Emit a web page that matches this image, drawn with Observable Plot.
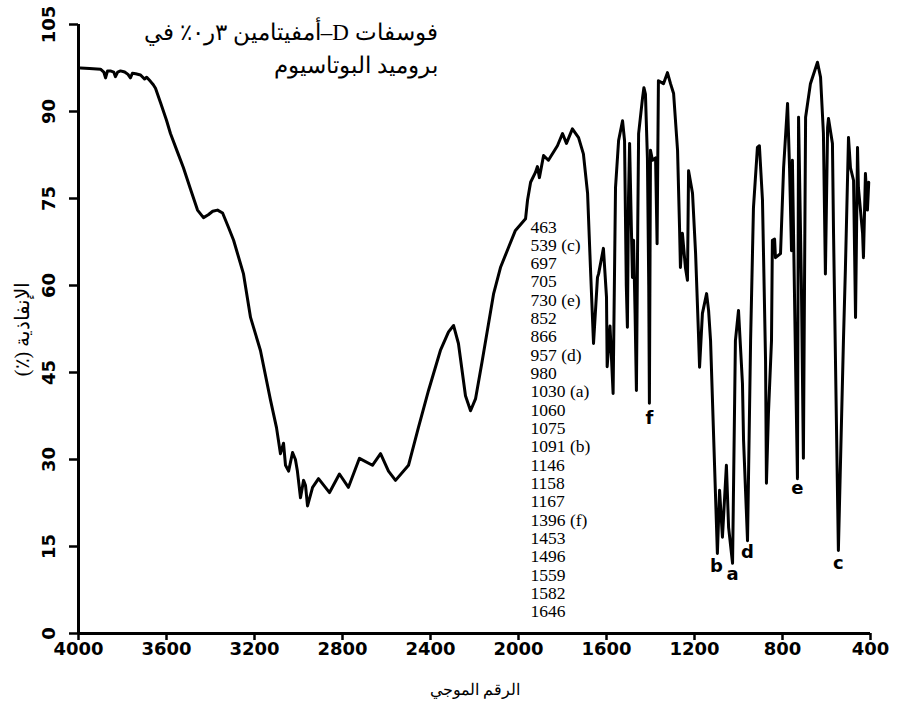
<!DOCTYPE html>
<html>
<head>
<meta charset="utf-8">
<script src="https://cdn.jsdelivr.net/npm/d3@7"></script>
<script src="https://cdn.jsdelivr.net/npm/@observablehq/plot@0.6"></script>
<style>
  html, body { margin: 0; padding: 0; background: #fff; }
</style>
</head>
<body>
<div id="chart"></div>
<script>
// ---- Data ----
const wavenumber = [
  3991, 3950, 3900, 3885, 3877, 3868, 3855, 3840, 3832, 3822, 3809, 3790, 3775, 3764, 3755, 3740,
  3718, 3700, 3690, 3673, 3660, 3650, 3627, 3600, 3582, 3550, 3523, 3490, 3459, 3432, 3410, 3390,
  3368, 3345, 3318, 3295, 3250, 3218, 3173, 3127, 3100, 3082, 3068, 3059, 3045, 3027, 3014, 3005,
  2991, 2977, 2968, 2959, 2936, 2909, 2859, 2814, 2773, 2723, 2664, 2627, 2591, 2559, 2500, 2455,
  2409, 2355, 2318, 2295, 2273, 2241, 2218, 2195, 2165, 2113, 2082, 2045, 2014, 1968, 1959, 1945,
  1923, 1914, 1905, 1886, 1864, 1823, 1800, 1782, 1755, 1727, 1705, 1686, 1673, 1659, 1641, 1636,
  1614, 1600, 1597, 1584, 1570, 1559, 1545, 1527, 1518, 1510, 1505, 1500, 1495, 1487, 1482, 1477,
  1470, 1464, 1458, 1454, 1436, 1430, 1423, 1414, 1408, 1405, 1400, 1391, 1377, 1370, 1364, 1341,
  1323, 1309, 1295, 1277, 1268, 1264, 1255, 1241, 1232, 1227, 1209, 1195, 1182, 1177, 1164, 1145,
  1136, 1127, 1096, 1086, 1073, 1055, 1045, 1027, 1014, 1000, 982, 977, 959, 945, 932, 914,
  905, 891, 877, 873, 864, 850, 846, 836, 832, 809, 795, 777, 768, 759, 755, 740,
  732, 727, 714, 705, 700, 695, 673, 641, 627, 614, 605, 595, 591, 573, 568, 546,
  523, 514, 500, 491, 477, 468, 459, 455, 436, 432, 423, 414, 408
];
const transmittance = [
  97.5, 97.4, 97.3, 96.8, 95.8, 97.0, 97.0, 96.8, 96.0, 96.8, 97.0, 96.8, 96.4, 95.8, 96.6, 96.5,
  96.3, 95.6, 95.9, 95.2, 94.6, 94.0, 91.5, 88.5, 86.2, 83.0, 80.3, 76.5, 73.0, 71.7, 72.2, 72.8,
  73.0, 72.5, 70.0, 67.8, 62.0, 54.5, 48.8, 40.2, 35.5, 31.0, 32.8, 29.0, 28.0, 31.2, 30.0, 28.0,
  23.4, 26.4, 25.5, 22.0, 25.2, 26.7, 24.3, 27.5, 25.2, 30.2, 29.0, 31.0, 28.0, 26.4, 29.0, 35.5,
  41.9, 48.8, 52.0, 53.1, 50.0, 41.0, 38.4, 40.5, 47.0, 58.6, 63.1, 66.6, 69.5, 71.5, 74.7, 77.8,
  79.5, 80.5, 78.6, 82.4, 81.6, 84.1, 86.2, 84.5, 87.0, 85.5, 82.7, 75.9, 63.1, 50.0, 61.4, 62.0,
  66.4, 58.0, 46.0, 53.0, 41.4, 76.9, 85.0, 88.4, 85.0, 60.0, 52.8, 75.0, 84.5, 70.0, 61.4, 67.8,
  55.0, 41.9, 70.0, 86.2, 92.4, 94.1, 93.0, 82.0, 60.0, 39.7, 83.3, 81.6, 82.0, 67.2, 95.3, 94.8,
  96.7, 94.8, 93.1, 83.3, 70.0, 63.1, 69.0, 63.0, 60.9, 79.8, 75.9, 65.5, 51.7, 45.9, 55.2, 58.6,
  55.7, 50.5, 13.8, 24.7, 16.6, 29.0, 18.3, 12.1, 50.5, 55.7, 43.1, 33.3, 16.0, 50.5, 73.4, 83.8,
  84.1, 74.7, 47.0, 25.9, 37.9, 50.5, 67.8, 68.0, 64.8, 65.5, 80.3, 91.4, 80.3, 66.0, 81.6, 45.0,
  26.7, 89.0, 60.0, 30.2, 60.0, 89.0, 94.8, 98.5, 95.9, 86.2, 62.0, 87.2, 88.8, 84.5, 69.0, 14.3,
  50.5, 63.0, 85.5, 80.3, 78.1, 54.5, 83.8, 76.9, 69.0, 64.8, 79.3, 73.0, 77.8
];

const xTicks = [4000, 3600, 3200, 2800, 2400, 2000, 1600, 1200, 800, 400];
const yTicks = [0, 15, 30, 45, 60, 75, 90, 105];

const peakList = [
  "463", "539 (c)", "697", "705", "730 (e)", "852", "866", "957 (d)", "980", "1030 (a)",
  "1060", "1075", "1091 (b)", "1146", "1158", "1167", "1396 (f)", "1453", "1496", "1559",
  "1582", "1646"
];

const bandLetters = ["f", "b", "a", "d", "e", "c"];
const bandWn = [1405, 1100, 1027, 959, 732, 546];
const bandT = [37.2, 11.6, 10.3, 14.0, 25.0, 12.2];

const titleLines = ["فوسفات D–أمفيتامين ٣ر٠٪ في", "بروميد البوتاسيوم"];
const xLabel = "الرقم الموجي";
const yLabel = "الإنفاذية (٪)";

// ---- Tables built from the arrays ----
const spectrum = wavenumber.map((w, i) => ({wn: w, t: transmittance[i]}));
const bands = bandLetters.map((l, i) => ({label: l, wn: bandWn[i], t: bandT[i]}));
const rtl = s => "\u202B" + s + "\u202C";

const tickFont = "DejaVu Sans, Verdana, sans-serif";
const serifFont = "Liberation Serif, Times New Roman, DejaVu Serif, serif";

const chart = Plot.plot({
  width: 908,
  height: 706,
  marginTop: 24,
  marginBottom: 73,
  marginLeft: 78,
  marginRight: 38,
  style: {background: "#fff", color: "#000", overflow: "visible"},
  x: {domain: [4000, 400], label: null},
  y: {domain: [0, 105], label: null},
  marks: [
    Plot.axisX({ticks: xTicks, tickSize: 7, tickPadding: 2, tickFormat: d => String(d),
      fontSize: 18, fontWeight: "bold", fontFamily: tickFont, strokeWidth: 2.5, label: null}),
    Plot.axisY({ticks: yTicks, tickSize: 9, tickFormat: () => "", strokeWidth: 2.5, label: null}),
    Plot.text(yTicks, {y: d => d, text: d => String(d), frameAnchor: "left", dx: -29, rotate: -90,
      textAnchor: "middle", lineAnchor: "middle", fontSize: 18, fontWeight: "bold", fontFamily: tickFont}),
    Plot.ruleX([4000], {strokeWidth: 3}),
    Plot.ruleY([0], {strokeWidth: 3}),
    Plot.line(spectrum, {x: "wn", y: "t", stroke: "#000", strokeWidth: 3, strokeLinejoin: "round"}),
    Plot.text(bands, {x: "wn", y: "t", text: "label", fontSize: 18, fontWeight: "bold",
      fontFamily: tickFont, textAnchor: "middle", lineAnchor: "middle"}),
    Plot.text([peakList.join("\n")], {frameAnchor: "top-left", dx: 452, dy: 195, text: d => d,
      textAnchor: "start", lineAnchor: "top", lineHeight: 1.047, fontSize: 17.5, fontFamily: serifFont}),
    Plot.text([titleLines.map(rtl).join("\n")], {frameAnchor: "top-left", dx: 359, dy: -7, text: d => d,
      textAnchor: "end", lineAnchor: "top", lineHeight: 1.4, fontSize: 23, fontFamily: serifFont}),
    Plot.text([rtl(xLabel)], {frameAnchor: "bottom", dy: 56, text: d => d, textAnchor: "middle",
      lineAnchor: "middle", fontSize: 16, fontFamily: serifFont}),
    Plot.text([rtl(yLabel)], {frameAnchor: "left", dx: -56, rotate: -90, text: d => d, textAnchor: "middle",
      lineAnchor: "middle", fontSize: 20, fontFamily: serifFont})
  ]
});

document.getElementById("chart").appendChild(chart);
</script>
</body>
</html>
